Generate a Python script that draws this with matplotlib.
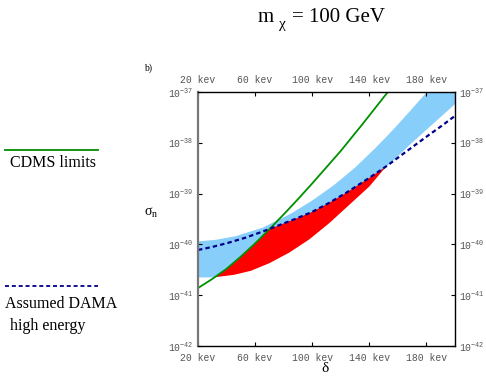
import numpy as np
import matplotlib.pyplot as plt
from matplotlib.lines import Line2D

# delta in keV, log10(sigma_n)
cdms_delta = [20, 30, 40, 50, 60, 70, 80, 90, 100, 120, 135, 152.4, 156]
cdms_logsig = [-40.86, -40.68, -40.48, -40.24, -39.98, -39.70, -39.41, -39.11, -38.80, -38.16,
               -37.64, -37.02, -36.89]

dama_delta = [20, 30, 41, 53, 65, 77, 88, 100, 112, 124, 140, 152, 165, 180, 190, 200]
dama_logsig = [-40.11, -40.05, -39.97, -39.87, -39.75, -39.62, -39.50, -39.36, -39.18, -38.98,
               -38.69, -38.46, -38.19, -37.88, -37.68, -37.47]

band_delta = [20, 32, 46, 65, 85, 100, 115, 130, 144, 152, 158, 168, 179, 200]
band_upper = [-39.93, -39.90, -39.83, -39.66, -39.38, -39.12, -38.82, -38.47, -38.09, -37.86,
              -37.68, -37.37, -37.02, -36.30]
band_lower = [-40.64, -40.64, -40.55, -40.35, -40.02, -39.76, -39.42, -39.02, -38.64, -38.45,
              -38.30, -38.03, -37.75, -37.22]

red_top_delta = [31.9, 40, 50, 60, 70, 77, 88, 100, 112, 124, 140, 152]
red_top_logsig = [-40.645, -40.48, -40.24, -39.98, -39.70, -39.62, -39.50, -39.36, -39.18, -38.98,
                  -38.69, -38.46]
red_bot_delta = [31.9, 45, 57, 70, 84, 98, 112, 126, 140, 152]
red_bot_logsig = [-40.645, -40.60, -40.52, -40.37, -40.16, -39.90, -39.58, -39.22, -38.86, -38.46]

xticks = [20, 60, 100, 140, 180]
xticklabels = ['20 kev', '60 kev', '100 kev', '140 kev', '180 kev']
yexps = [-42, -41, -40, -39, -38, -37]

serif = 'Liberation Serif'
mono = 'Liberation Mono'
lab_col = '#555555'

fig = plt.figure(figsize=(4.86, 3.77), dpi=100)
ax = fig.add_axes([198 / 486, 1 - 346 / 377, 257 / 486, 254 / 377])

p = lambda v: 10.0 ** np.array(v)

ax.fill_between(band_delta, p(band_lower), p(band_upper), color='#87cefa', lw=0)
red_x = np.concatenate([red_top_delta, red_bot_delta[::-1]])
red_y = np.concatenate([p(red_top_logsig), p(red_bot_logsig)[::-1]])
ax.fill(red_x, red_y, color='#ff0000', lw=0)
ax.plot(cdms_delta, p(cdms_logsig), color='#009000', lw=1.3)
ax.plot(dama_delta, p(dama_logsig), color='#00008b', lw=1.6, dashes=(2.0, 1.4))

ax.set_yscale('log')
ax.set_xlim(20, 200)
ax.set_ylim(1e-42, 1e-37)
ax.minorticks_off()

ax.set_xticks(xticks)
ax.set_xticklabels(xticklabels)
ax.set_yticks([10.0 ** e for e in yexps])
ax.set_yticklabels([r'$\mathregular{10^{%d}}$' % e for e in yexps])
ax.tick_params(direction='in', length=3, width=0.8, top=True, right=True,
               labeltop=True, labelright=True, labelsize=7, labelcolor=lab_col, pad=3)
ax.tick_params(axis='x', pad=5)
for tick in ax.xaxis.get_major_ticks() + ax.yaxis.get_major_ticks():
    tick.label1.set_family(mono)
    tick.label2.set_family(mono)

for s in ['top', 'right', 'bottom']:
    ax.spines[s].set_linewidth(1.0)
ax.spines['left'].set_color('#777777')
ax.spines['left'].set_linewidth(1.6)

# title  m_chi = 100 GeV, built from pieces
fig.text(258 / 486, 1 - 22 / 377, 'm', family=serif, fontsize=15, ha='left', va='baseline')
fig.text(279 / 486, 1 - 28 / 377, 'χ', family=serif, fontsize=11, ha='left', va='baseline')
fig.text(292 / 486, 1 - 22 / 377, '= 100 GeV', family=serif, fontsize=15, ha='left', va='baseline')

fig.text(144 / 486, 1 - 68 / 377, 'b)', family=serif, fontsize=7, ha='left', va='center')
fig.text(325 / 486, 1 - 369 / 377, 'δ', family=serif, fontsize=11, ha='center', va='center')
fig.text(151 / 486, 1 - 213 / 377, r'$\mathregular{\sigma_n}$', family=serif, fontsize=10,
         ha='center', va='center')

# legend at the left
fig.add_artist(Line2D([5 / 486, 98 / 486], [1 - 150 / 377] * 2, color='#009000', lw=1.3))
fig.text(10 / 486, 1 - 163 / 377, 'CDMS limits', family=serif, fontsize=11.5, ha='left', va='center')
fig.add_artist(Line2D([5 / 486, 98 / 486], [1 - 286 / 377] * 2, color='#00008b', lw=1.3,
                      dashes=(2.2, 1.6)))
fig.text(5 / 486, 1 - 304 / 377, 'Assumed DAMA', family=serif, fontsize=11.5, ha='left', va='center')
fig.text(10 / 486, 1 - 326 / 377, 'high energy', family=serif, fontsize=11.5, ha='left', va='center')

fig.savefig('out.png', dpi=100)
